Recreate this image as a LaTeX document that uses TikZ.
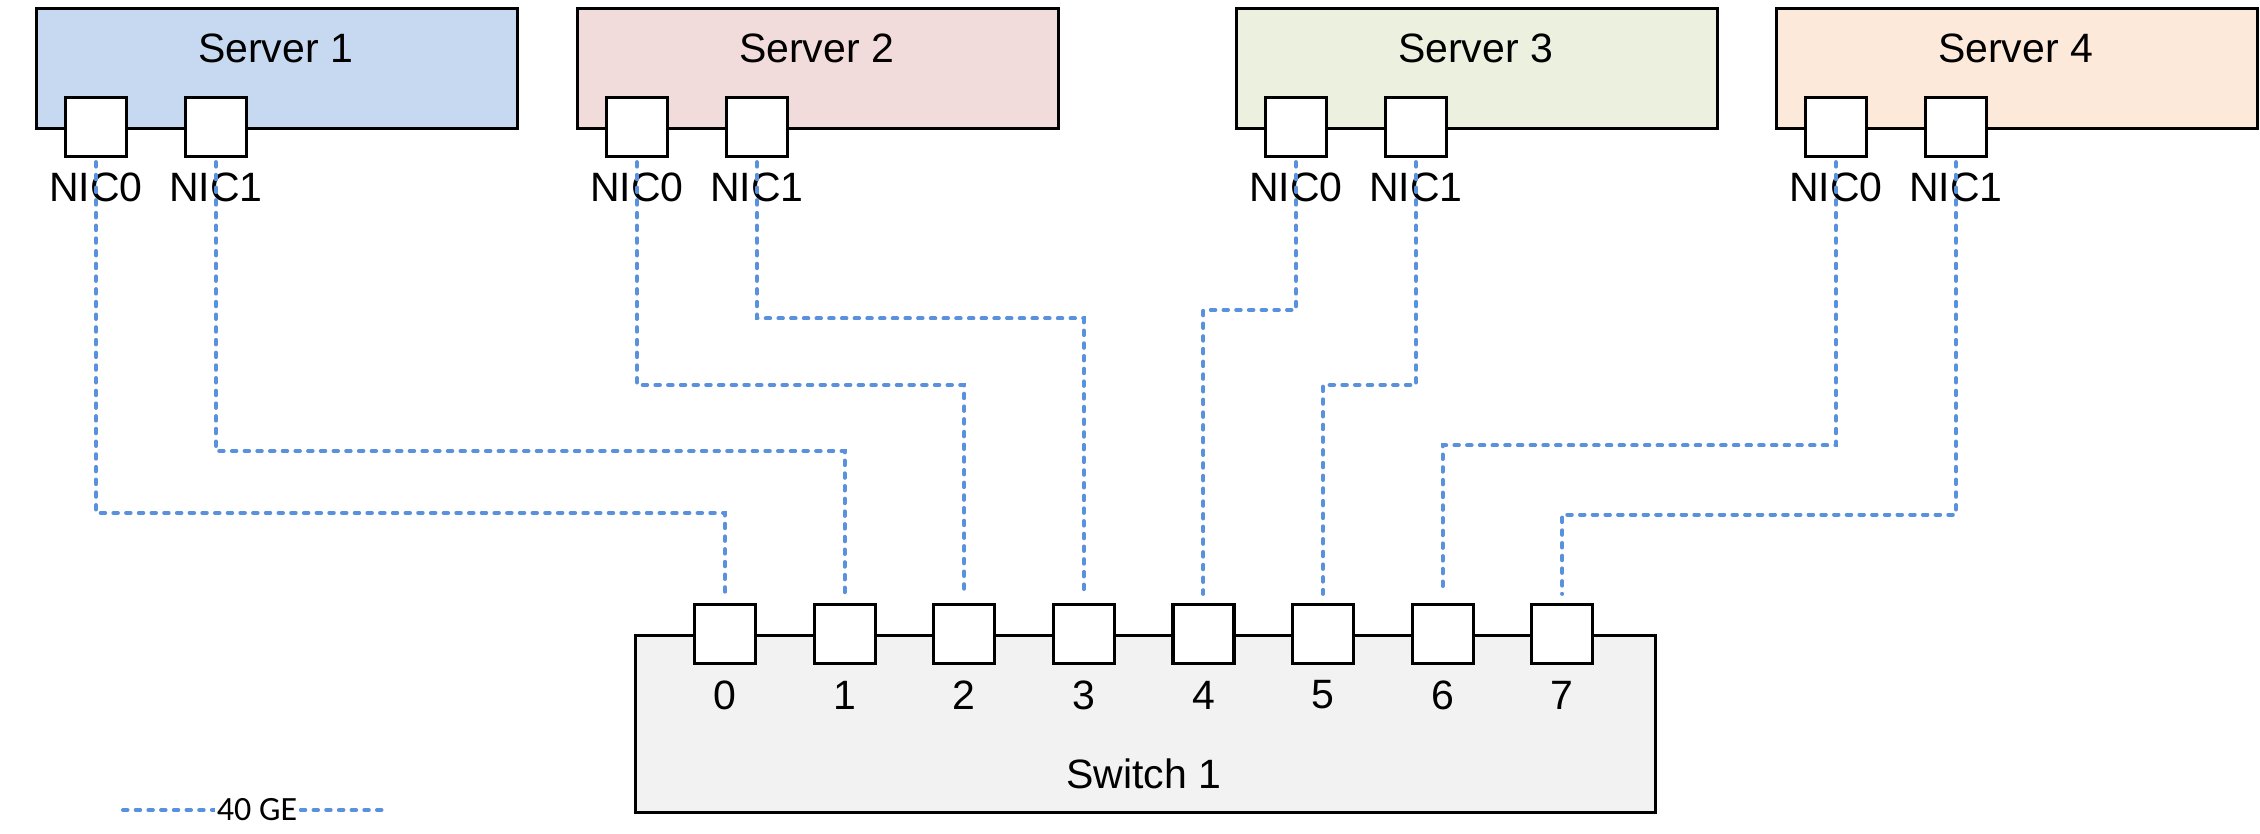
\documentclass[tikz,border=0pt]{standalone}
\usepackage{fontspec}
\setmainfont{Liberation Sans}
\newfontfamily\legendfont{Carlito}
\begin{document}
\begin{tikzpicture}[x=1pt,y=-1pt,
  box/.style={draw=black, line width=3.2pt, rectangle, inner sep=0pt},
  serverbox/.style={box, anchor=north west, minimum width=481pt, minimum height=120pt},
  portbox/.style={box, fill=white, minimum width=61pt, minimum height=59pt},
  lbl/.style={font=\fontsize{41}{44}\selectfont, inner sep=0pt},
  wire/.style={draw={rgb,255:red,90;green,145;blue,220}, line width=4pt, line cap=round, dash pattern=on 4.5pt off 8.2pt},
  link/.style={wire, shorten <=4pt, shorten >=9pt},
]
\useasboundingbox[fill=white] (0,0) rectangle (2260,834);
\definecolor{sonec}{HTML}{C6D9F1}
\definecolor{stwoc}{HTML}{F2DCDB}
\definecolor{sthreec}{HTML}{EBF1DE}
\definecolor{sfourc}{HTML}{FDE9D9}
\definecolor{swc}{HTML}{F2F2F2}

% servers
\node[serverbox, fill=sonec] (s1) at (35,7) {};
\node[serverbox, fill=stwoc] (s2) at (576,7) {};
\node[serverbox, fill=sthreec] (s3) at (1235,7) {};
\node[serverbox, fill=sfourc] (s4) at (1775,7) {};
\node[lbl] (s1t) at (275.5,48) {Server 1};
\node[lbl] (s2t) at (816.5,48) {Server 2};
\node[lbl] (s3t) at (1475.5,48) {Server 3};
\node[lbl] (s4t) at (2015.5,48) {Server 4};

% NICs
\foreach \s/\l in {1/35,2/576,3/1235,4/1775}{
  \node[portbox] (n\s0) at (\l+61,127) {};
  \node[portbox] (n\s1) at (\l+181,127) {};
  \node[lbl] (n\s0t) at (\l+61,187) {NIC0};
  \node[lbl] (n\s1t) at (\l+181,187) {NIC1};
}

% switch
\node[box, fill=swc, anchor=north west, minimum width=1020pt, minimum height=177pt] (sw) at (634,634) {};
\node[lbl] (swt) at (1144,774) {Switch 1};
\foreach \i in {0,...,7}{
  \node[portbox] (p\i) at (725+119.6*\i,634) {};
  \node[lbl] (p\i t) at (725+119.6*\i,695) {\i};
}

% wires
\draw[link] (n10.south) |- (p0.north |- 0,513) -- (p0.north);
\draw[link] (n11.south) |- (p1.north |- 0,451) -- (p1.north);
\draw[link] (n20.south) |- (p2.north |- 0,385) -- (p2.north);
\draw[link] (n21.south) |- (p3.north |- 0,318.5) -- (p3.north);
\draw[link] (n30.south) |- (p4.north |- 0,310) -- (p4.north);
\draw[link] (n31.south) |- (p5.north |- 0,385) -- (p5.north);
\draw[link] (n40.south) |- (p6.north |- 0,445.4) -- (p6.north);
\draw[link] (n41.south) |- (p7.north |- 0,514.5) -- (p7.north);

% legend
\coordinate (la) at (123,810);
\coordinate (lb) at (385,810);
\draw[wire] (la) -- (lb);
\node[fill=white, inner sep=2pt, font=\legendfont\fontsize{34}{36}\selectfont] (lt) at (257,810) {40 GE};
\end{tikzpicture}
\end{document}
